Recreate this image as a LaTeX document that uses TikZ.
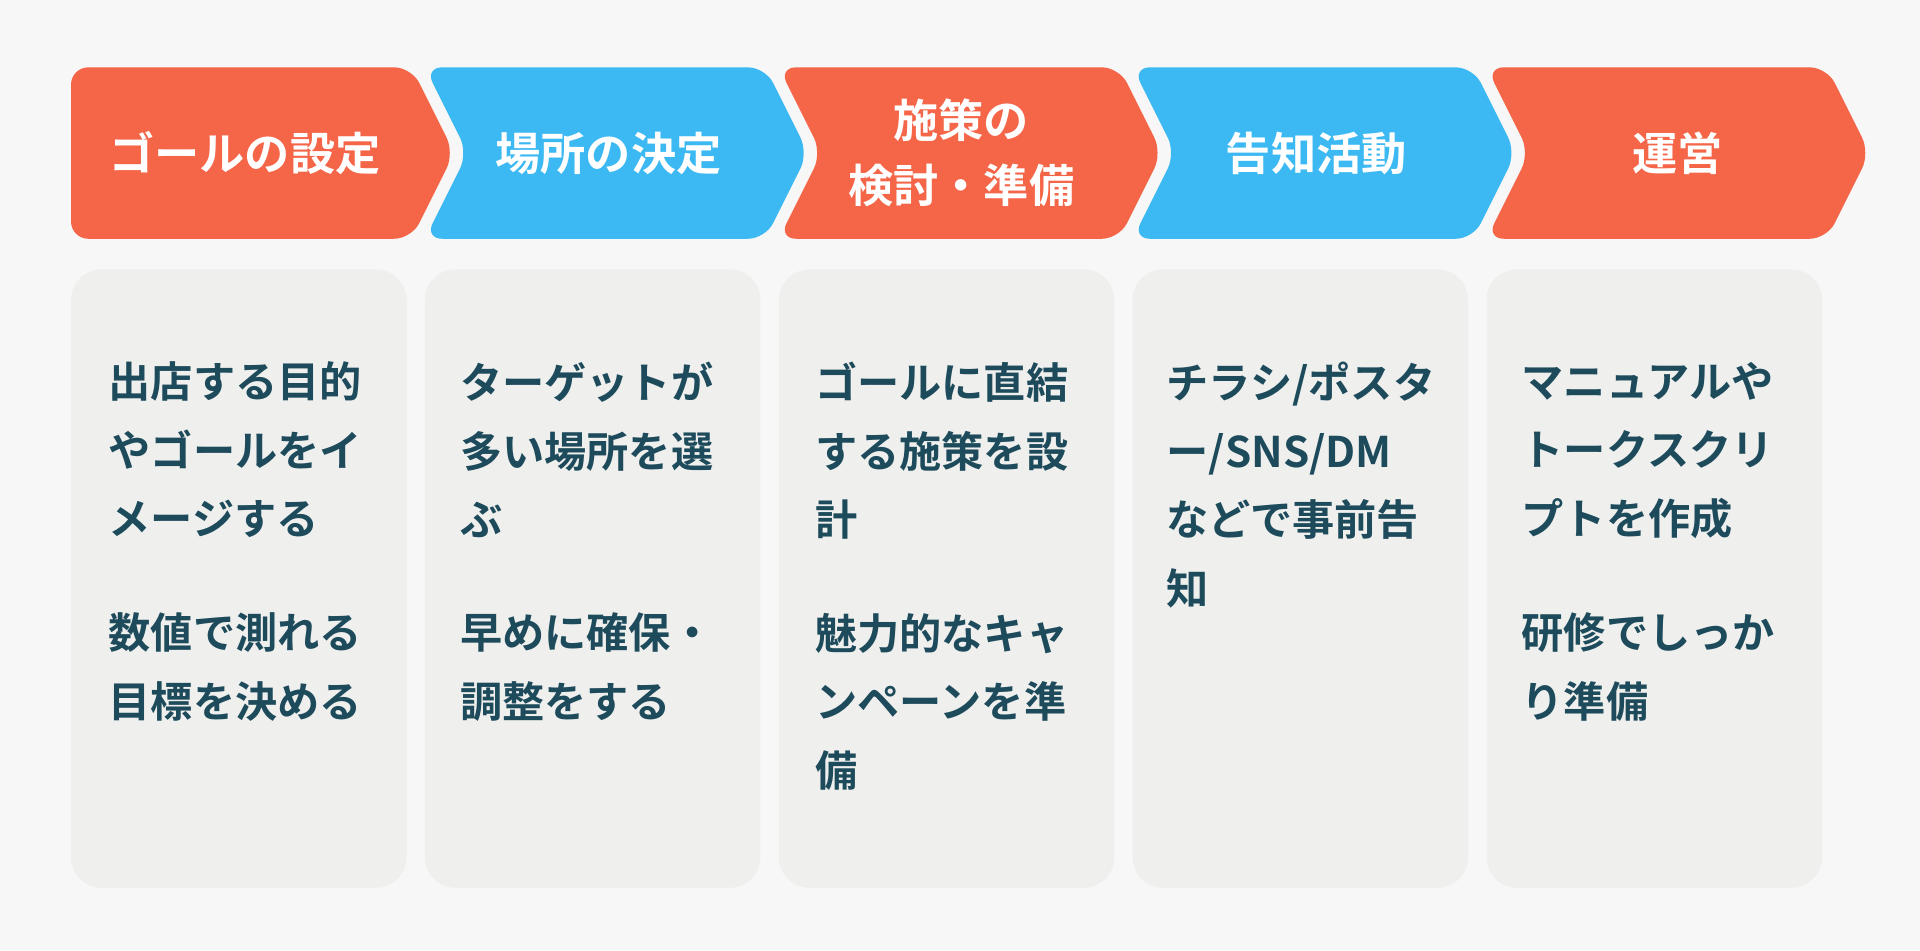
\documentclass[tikz,border=0pt]{standalone}
\usepackage{fontspec}
\setmainfont{Noto Sans CJK JP}[BoldFont={* Bold}]
\definecolor{bgcol}{HTML}{F7F7F7}
\definecolor{cardcol}{HTML}{EFEFEE}
\definecolor{orng}{HTML}{F56548}
\definecolor{skyb}{HTML}{3CB9F2}
\definecolor{inkcol}{HTML}{1D4B5B}
\begin{document}
\begin{tikzpicture}[x=0.01cm, y=-0.01cm, font=\bfseries,
  card/.style={fill=cardcol, rounded corners=0.25cm},
  headtext/.style={text=white, font=\fontsize{10.5}{15}\bfseries\selectfont, align=center},
  bodytext/.style={text=inkcol, font=\fontsize{9.8}{15.9}\bfseries\selectfont, align=left, anchor=north west, inner sep=0pt}]

  % background
  \fill[bgcol] (0,0) rectangle (1568,776);

  % chevrons
  \foreach \i/\col/\nd in {0/orng/0, 1/skyb/35, 2/orng/35, 3/skyb/35, 4/orng/35} {
    \pgfmathsetmacro{\xl}{58+\i*289}
    \pgfmathsetmacro{\xr}{\xl+278}
    \fill[\col, rounded corners=4pt] (\xl,55) -- (\xr,55) -- (\xr+35,125) -- (\xr,195)
      -- (\xl,195) -- (\xl+\nd,125) -- cycle;
  }

  % header labels
  \node[headtext] (h1) at (200,125) {ゴールの設定};
  \node[headtext] (h2) at (497,125) {場所の決定};
  \node[headtext] (h3) at (785,125) {施策の\\検討・準備};
  \node[headtext] (h4) at (1075,125) {告知活動};
  \node[headtext] (h5) at (1370,125) {運営};

  % cards
  \foreach \i in {0,...,4} {
    \pgfmathsetmacro{\xl}{58+\i*289}
    \fill[card] (\xl,220) rectangle (\xl+274,725);
  }

  % card texts
  \node[bodytext] (a1) at (88,295) {出店する目的\\やゴールをイ\\メージする};
  \node[bodytext] (a2) at (88,500) {数値で測れる\\目標を決める};
  \node[bodytext] (b1) at (375,295) {ターゲットが\\多い場所を選\\ぶ};
  \node[bodytext] (b2) at (375,500) {早めに確保・\\調整をする};
  \node[bodytext] (c1) at (665,295) {ゴールに直結\\する施策を設\\計};
  \node[bodytext] (c2) at (665,500) {魅力的なキャ\\ンペーンを準\\備};
  \node[bodytext] (d1) at (952,295) {チラシ/ポスタ\\ー/SNS/DM\\などで事前告\\知};
  \node[bodytext] (e1) at (1242,295) {マニュアルや\\トークスクリ\\プトを作成};
  \node[bodytext] (e2) at (1242,500) {研修でしっか\\り準備};
\end{tikzpicture}
\end{document}
